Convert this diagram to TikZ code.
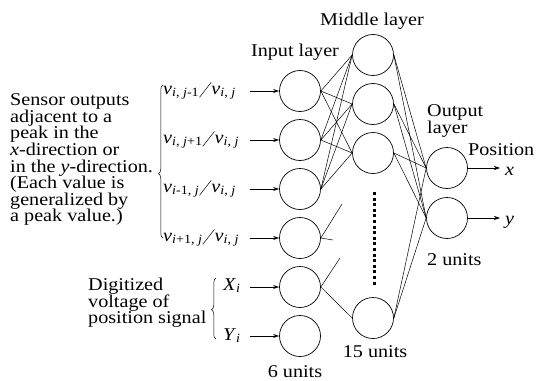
\documentclass[tikz,border=0pt]{standalone}
\usepackage{fontspec}
\setmainfont{Liberation Serif}[FakeStretch=1.12]
\usetikzlibrary{arrows.meta,decorations.pathreplacing}
\newcommand\vsl{\raisebox{-3.5pt}{\rotatebox{52}{\rule{19pt}{0.5pt}}}}
\begin{document}
\begin{tikzpicture}[x=1pt,y=-1pt,
  unit/.style={circle,draw,line width=0.7pt,minimum size=41pt,inner sep=0pt},
  link/.style={line width=0.5pt},
  arr/.style={line width=0.6pt,-{Stealth[length=6pt,width=4pt]}},
  lbl/.style={font=\fontsize{18}{16.6}\selectfont,inner sep=0pt},
  brc/.style={decorate,decoration={brace,amplitude=4.5pt,aspect=#1},line width=0.5pt},
  ]
\useasboundingbox (0,0) rectangle (537,380);
% units
\foreach \k/\y in {1/91,2/140,3/189,4/238,5/287,6/336}
  \node[unit] (i\k) at (300,\y) {};
\foreach \k/\y in {1/55,2/104,3/153,4/318}
  \node[unit] (m\k) at (373,\y) {};
\node[unit] (o1) at (447,168) {};
\node[unit] (o2) at (447,218) {};
% links input -> middle
\foreach \a in {1,2,3}
  \foreach \b in {1,2,3}
    \draw[link] (i\a.east) -- (m\b.west);
\coordinate (s1) at (342,204);
\coordinate (s2) at (333,240);
\coordinate (s3) at (340,258);
\draw[link] (i4.east) -- (s1);
\draw[link] (i4.east) -- (s2);
\draw[link] (i5.east) -- (s3);
\draw[link] (i5.east) -- (m4.west);
% links middle -> output
\foreach \a in {1,2,3,4}
  \foreach \b in {1,2}
    \draw[link] (m\a.east) -- (o\b.west);
% dots
\coordinate (d1) at (374,192);
\coordinate (d2) at (374,287);
\draw[line width=3pt,dash pattern=on 3pt off 2.6pt] (d1) -- (d2);
% input arrows
\foreach \k/\y in {1/91,2/140,3/189,4/238,5/287,6/336}{
  \coordinate (a\k) at (250,\y);
  \draw[arr] (a\k) -- (i\k.west);
}
% output arrows
\coordinate (x1) at (500,168);
\coordinate (y1) at (500,218);
\draw[arr] (o1.east) -- (x1);
\draw[arr] (o2.east) -- (y1);
\node[lbl,anchor=base west] (xl) at (505,175) {\textit{x}};
\node[lbl,anchor=base west] (yl) at (505,224) {\textit{y}};
% input labels
\node[lbl,anchor=base west] (l1) at (163,94) {\textit{v}\textsubscript{\textit{i}, \textit{j}-1}\vsl\textit{v}\textsubscript{\textit{i}, \textit{j}}};
\node[lbl,anchor=base west] (l2) at (163,143) {\textit{v}\textsubscript{\textit{i}, \textit{j}+1}\vsl\textit{v}\textsubscript{\textit{i}, \textit{j}}};
\node[lbl,anchor=base west] (l3) at (163,192) {\textit{v}\textsubscript{\textit{i}-1, \textit{j}}\vsl\textit{v}\textsubscript{\textit{i}, \textit{j}}};
\node[lbl,anchor=base west] (l4) at (163,241) {\textit{v}\textsubscript{\textit{i}+1, \textit{j}}\vsl\textit{v}\textsubscript{\textit{i}, \textit{j}}};
\node[lbl,anchor=base west] (l5) at (223,290) {\textit{X}\textsubscript{\textit{i}}};
\node[lbl,anchor=base west] (l6) at (223,340) {\textit{Y}\textsubscript{\textit{i}}};
% braces
\coordinate (b1) at (163,238);
\coordinate (b2) at (163,85);
\draw[brc=0.42] (b1) -- (b2);
\coordinate (c1) at (216,339);
\coordinate (c2) at (216,278);
\draw[brc=0.48] (c1) -- (c2);
% left texts
\node[lbl,anchor=north west,align=left] (t1) at (10,93.5) {Sensor outputs\\adjacent to a\\peak in the\\\textit{x}-direction or\\in the \textit{y}-direction.\\(Each value is\\generalized by\\a peak value.)};
\node[lbl,anchor=north west,align=left] (t2) at (88,278) {Digitized\\voltage of\\position signal};
% layer labels
\node[lbl,anchor=base] (tin) at (295,56) {Input layer};
\node[lbl,anchor=base] (tmid) at (372,25) {Middle layer};
\node[lbl,anchor=north west,align=left] (tout) at (427,104.5) {Output\\layer};
\node[lbl,anchor=base west] (tpos) at (468,155) {Position};
\node[lbl,anchor=base west] (t2u) at (427,265) {2 units};
\node[lbl,anchor=base] (t15u) at (375,357) {15 units};
\node[lbl,anchor=base] (t6u) at (295,377) {6 units};
\end{tikzpicture}
\end{document}
